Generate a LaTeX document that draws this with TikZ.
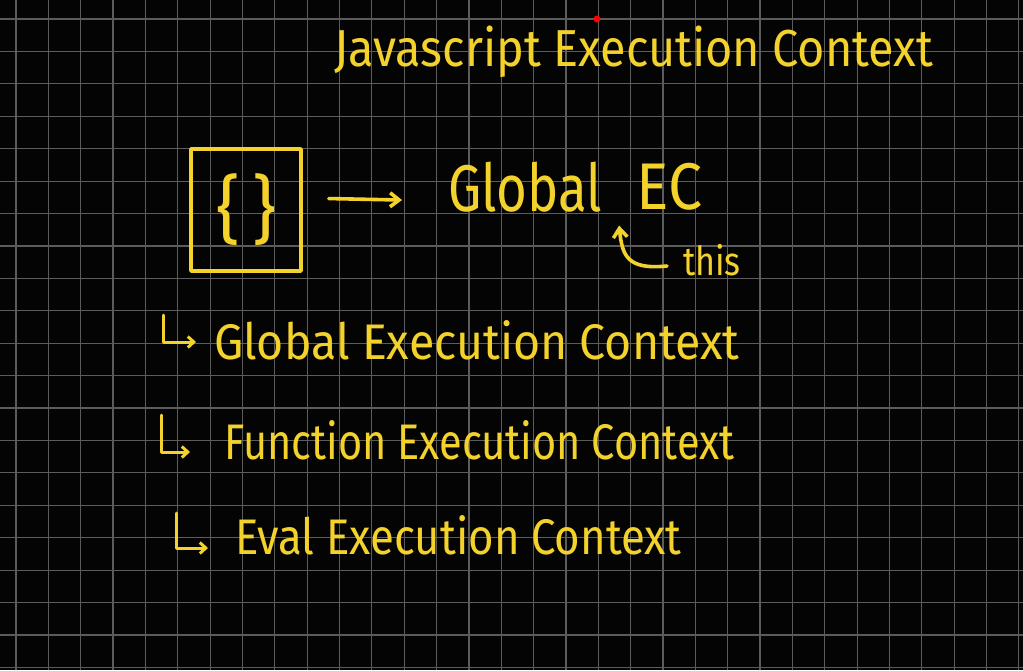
\documentclass[tikz,border=0pt]{standalone}
\usepackage{fontspec}
\setmainfont{Fira Sans}
\usetikzlibrary{arrows.meta,positioning,calc}
\definecolor{board}{RGB}{4,4,4}
\definecolor{gridline}{RGB}{92,92,92}
\definecolor{chalk}{RGB}{244,210,44}
% squeeze handwriting horizontally
\newcommand{\narrow}[2][0.8]{\scalebox{#1}[1]{#2}}

\begin{document}
\begin{tikzpicture}[x=1pt,y=-1pt,
    % handwritten text
    hand/.style={text=chalk, inner sep=0pt, font=\fontsize{#1}{#1}\selectfont},
    hand/.default=44,
    % pen strokes
    pen/.style={draw=chalk, line width=3.6pt, line cap=round, line join=round},
    tip/.style={-{Straight Barb[length=9pt,width=14pt]}},
    % little hook arrows of the list
    hook/.style={pen, line width=3pt, -{Straight Barb[length=6pt,width=11pt]}}
]
\useasboundingbox (0,0) rectangle (1023,670);

% board and grid
\fill[board] (0,0) rectangle (1023,670);
\foreach \i in {0,...,31}
    \draw[gridline, line width=1.2pt] ({16+32.35*\i},0) -- ++(0,670);
\foreach \j in {0,...,20}
    \draw[gridline, line width=1.2pt] (0,{19+32.42*\j}) -- ++(1023,0);

% title
\node[hand=52] (title) at (634,52) {\narrow[0.9]{Javascript Execution Context}};
\node[circle, fill=red, inner sep=0pt, minimum size=7pt] (cursor) at (597,19) {};

% code block and global EC
\node[pen, hand=74, minimum width=110pt, minimum height=122pt] (code) at (246,210) {\{\,\}};
\node[hand=66, anchor=west] (global) at (448,187) {\narrow[0.8]{Global}};
\node[hand=66, anchor=west] (ec) at (636,187) {\narrow[0.92]{EC}};
\node[hand=40] (this) at (712,260) {\narrow[0.85]{this}};

\draw[pen, tip, shorten <=26pt, shorten >=46pt] ([yshift=12pt]code.east) -- ([yshift=-14pt]global.west);
\draw[pen, tip] ([xshift=-16pt,yshift=-6pt]this.west) .. controls +(-40,4) and +(3,30) ..
    ($(global.south east)!0.5!(ec.south west)+(0,14)$);

% kinds of execution context
\node[hand=50, anchor=west] (gec) at (214,340) {\narrow[0.93]{Global Execution Context}};
\node[hand=50, anchor=west] (fec) at (224,440) {\narrow[0.83]{Function Execution Context}};
\node[hand=50, anchor=west] (eec) at (235,535) {\narrow[0.875]{Eval Execution Context}};

\draw[hook] ($(gec.west)+(-51,-25)$) |- ($(gec.west)+(-18,2)$);
\draw[hook] ($(fec.west)+(-63,-25)$) |- ($(fec.west)+(-34,12)$);
\draw[hook] ($(eec.west)+(-59,-22)$) |- ($(eec.west)+(-27,13)$);

\end{tikzpicture}
\end{document}
